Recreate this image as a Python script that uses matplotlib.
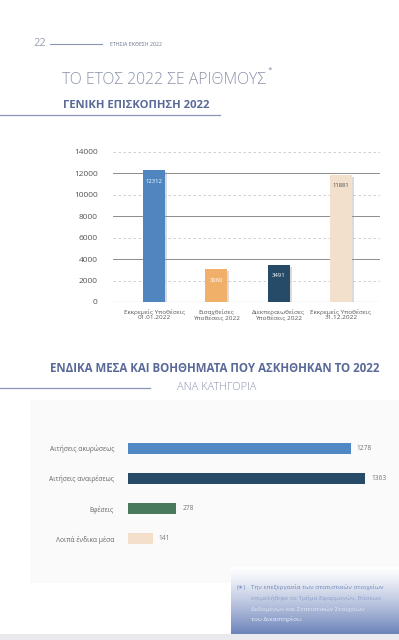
import numpy as np
import matplotlib.pyplot as plt
import matplotlib.patheffects as pe

plt.rcParams['font.family'] = ['Open Sans', 'DejaVu Sans']

# top chart data
case_labels = ['Εκκρεμείς Υποθέσεις\n01.01.2022', 'Εισαχθείσες\nΥποθέσεις 2022',
               'Διεκπεραιωθείσες\nΥποθέσεις 2022', 'Εκκρεμείς Υποθέσεις\n31.12.2022']
case_values = [12312, 3060, 3491, 11881]
case_colors = ['#4f86c0', '#f0b06a', '#264b68', '#f2e0cc']
case_text = ['white', 'white', 'white', '#4a4a4a']
y_ticks = [0, 2000, 4000, 6000, 8000, 10000, 12000, 14000]

# bottom chart data
remedy_labels = ['Αιτήσεις ακυρώσεως', 'Αιτήσεις αναιρέσεως', 'Εφέσεις', 'Λοιπά ένδικα μέσα']
remedy_values = [1278, 1363, 278, 141]
remedy_colors = ['#4f88c2', '#274a66', '#4a7a5c', '#f3dfca']

note_lines = ['Την επεξεργασία των στατιστικών στοιχείων',
              'επιμελήθηκε το Τμήμα Εφαρμογών, Βάσεων',
              'Δεδομένων και Στατιστικών Στοιχείων',
              'του Δικαστηρίου.']

W, H = 399, 640
fig = plt.figure(figsize=(W / 100, H / 100), dpi=100)

def px(x0, y0, x1, y1):
    # pixel box -> figure fraction rect
    return [x0 / W, 1 - y1 / H, (x1 - x0) / W, (y1 - y0) / H]

# page background, lines and titles in pixel coords
bg = fig.add_axes([0, 0, 1, 1])
bg.axis('off')
bg.add_patch(plt.Rectangle((30, 400), W - 30, 183, color='#fafafb', lw=0))
bg.add_patch(plt.Rectangle((0, 634), W, 6, color='#e9e9ee', lw=0))
grad = np.linspace(0, 1, 100).reshape(-1, 1)
top_c = np.array([1.0, 1.0, 1.0])
bot_c = np.array([0x6d, 0x84, 0xbb]) / 255
img = top_c + (bot_c - top_c) * grad[..., None] ** 1.2
bg.imshow(img, extent=(231, W, 634, 567), aspect='auto', zorder=1)
bg.set_xlim(0, W)
bg.set_ylim(H, 0)

bg.text(33, 44, '22', fontsize=8, color='#9aa0b0', va='center', ha='left')
bg.plot([50, 102], [44, 44], color='#8a96b8', lw=0.8)
bg.text(110, 44, 'ΕΤΗΣΙΑ ΕΚΘΕΣΗ 2022', fontsize=3.8, color='#6a7290', va='center', ha='left')
bg.text(62, 80, 'ΤΟ ΕΤΟΣ 2022 ΣΕ ΑΡΙΘΜΟΥΣ', fontsize=11.3, color='#8a92aa', va='center',
        ha='left', fontweight='light')
bg.text(268, 70, '*', fontsize=6, color='#8a92aa', va='center', ha='left')
bg.text(63, 105, 'ΓΕΝΙΚΗ ΕΠΙΣΚΟΠΗΣΗ 2022', fontsize=8.1, color='#5a6a98', va='center',
        ha='left', fontweight='bold')
bg.plot([0, 220], [115, 115], color='#8a96b8', lw=0.9)

bg.text(50, 368, 'ΕΝΔΙΚΑ ΜΕΣΑ ΚΑΙ ΒΟΗΘΗΜΑΤΑ ΠΟΥ ΑΣΚΗΘΗΚΑΝ ΤΟ 2022', fontsize=8.3,
        color='#5a6a98', va='center', ha='left', fontweight='bold')
bg.text(177, 387, 'ΑΝΑ ΚΑΤΗΓΟΡΙΑ', fontsize=7.9, color='#8a92aa', va='center', ha='left',
        fontweight='light')
bg.plot([0, 150], [388, 388], color='#8a96b8', lw=0.9)

note_colors = ['#7088bb', '#8ea0cc', '#e0e6f3', '#eef1f8']
bg.text(237, 588, '(∗)', fontsize=4.6, color='#7088bb', va='center', ha='left', zorder=3)
for i, (line, c) in enumerate(zip(note_lines, note_colors)):
    bg.text(251, 588 + 10.5 * i, line, fontsize=4.6, color=c, va='center', ha='left', zorder=3)

# vertical bar chart
ax1 = fig.add_axes(px(113, 152, 380, 302))
ax1.patch.set_alpha(0)
x = np.arange(len(case_values))
bars = ax1.bar(x, case_values, width=0.355, color=case_colors, zorder=3)
for b in bars:
    b.set_path_effects([pe.SimplePatchShadow(offset=(1.5, -1.5), shadow_rgbFace='#999999',
                                             alpha=0.35), pe.Normal()])
for xi, v, tc in zip(x, case_values, case_text):
    ax1.annotate(str(v), (xi, v), xytext=(0, -8), textcoords='offset points', ha='center',
                 va='center', fontsize=4.2, color=tc, zorder=4)
ax1.set_xlim(-0.66, 3.63)
ax1.set_ylim(0, 14000)
ax1.set_yticks(y_ticks)
ax1.set_yticklabels([str(t) for t in y_ticks])
for t in y_ticks:
    if t == 0:
        continue
    if (t // 2000) % 2 == 0:
        ax1.axhline(t, color='#8c8c8c', lw=0.7, zorder=1)
    else:
        ax1.axhline(t, color='#c8c8c8', lw=0.6, ls=(0, (3, 3)), zorder=1)
ax1.axhline(0, color='#8c8c8c', lw=0.8, zorder=2)
ax1.set_xticks(x)
ax1.set_xticklabels(case_labels, fontsize=4.6, color='#555555', linespacing=1.1)
ax1.tick_params(axis='y', labelsize=6, colors='#555555', length=0, pad=11)
ax1.tick_params(axis='x', length=0, pad=5)
for s in ax1.spines.values():
    s.set_visible(False)

# horizontal bar chart
ax2 = fig.add_axes(px(128, 433, 380, 554))
ax2.patch.set_alpha(0)
y = np.arange(len(remedy_values))
ax2.barh(y, remedy_values, height=0.36, color=remedy_colors, zorder=3)
for yi, v in zip(y, remedy_values):
    ax2.annotate(str(v), (v, yi), xytext=(4.5, 0), textcoords='offset points', ha='left',
                 va='center', fontsize=4.8, color='#777777')
ax2.set_xlim(0, 1447)
ax2.set_ylim(3.5, -0.5)
ax2.set_yticks(y)
ax2.set_yticklabels(remedy_labels, fontsize=4.8, color='#666666')
ax2.tick_params(axis='y', length=0, pad=10)
ax2.set_xticks([])
for s in ax2.spines.values():
    s.set_visible(False)

fig.savefig('out.png', dpi=100)
